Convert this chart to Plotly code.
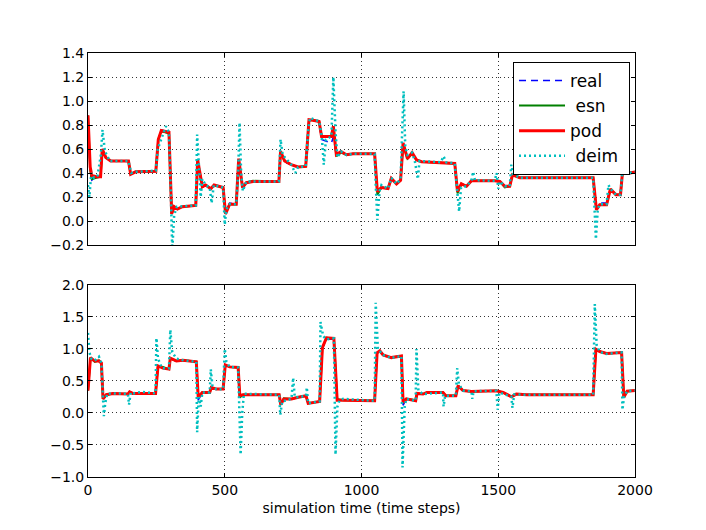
import plotly.graph_objects as go

# ---------------- data ----------------
t_top = [0, 8, 14, 30, 46, 52, 65, 83, 148, 156, 174, 248, 257, 268, 296, 306, 315, 327, 345, 394,
         401, 418, 430, 449, 461, 494, 503, 518, 542, 551, 565, 579, 603, 698, 704, 719, 743, 768, 796, 808,
         823, 845, 854, 890, 897, 908, 925, 945, 969, 1048, 1058, 1073, 1097, 1109, 1128, 1143, 1152, 1168, 1185, 1201,
         1219, 1292, 1341, 1351, 1365, 1384, 1402, 1487, 1506, 1524, 1542, 1552, 1579, 1847, 1859, 1871, 1896, 1910, 1930, 1947,
         1954, 1969, 1981, 2000]
pod_top = [0.88, 0.45, 0.38, 0.37, 0.37, 0.60, 0.53, 0.50, 0.50, 0.39, 0.41, 0.415, 0.68, 0.755, 0.74, 0.06, 0.12, 0.10, 0.12, 0.13,
           0.51, 0.285, 0.30, 0.27, 0.30, 0.28, 0.06, 0.14, 0.14, 0.52, 0.28, 0.32, 0.33, 0.33, 0.58, 0.50, 0.47, 0.45, 0.455, 0.845,
           0.84, 0.83, 0.705, 0.705, 0.79, 0.553, 0.58, 0.553, 0.56, 0.56, 0.245, 0.28, 0.27, 0.355, 0.31, 0.34, 0.65, 0.52, 0.57, 0.51,
           0.495, 0.486, 0.48, 0.245, 0.31, 0.29, 0.335, 0.335, 0.33, 0.29, 0.29, 0.385, 0.36, 0.36, 0.094, 0.136, 0.136, 0.266, 0.22, 0.22,
           0.40, 0.42, 0.40, 0.41]
real_top = [0.88, 0.40, 0.34, 0.37, 0.37, 0.60, 0.53, 0.50, 0.50, 0.39, 0.41, 0.415, 0.68, 0.76, 0.74, 0.06, 0.12, 0.10, 0.12, 0.13,
            0.51, 0.285, 0.30, 0.27, 0.30, 0.28, 0.06, 0.15, 0.14, 0.52, 0.28, 0.32, 0.33, 0.33, 0.58, 0.49, 0.47, 0.45, 0.455, 0.85,
            0.84, 0.83, 0.68, 0.65, 0.70, 0.553, 0.58, 0.553, 0.56, 0.56, 0.245, 0.28, 0.27, 0.355, 0.31, 0.34, 0.65, 0.53, 0.57, 0.51,
            0.495, 0.486, 0.48, 0.245, 0.31, 0.29, 0.335, 0.335, 0.33, 0.29, 0.29, 0.385, 0.36, 0.36, 0.094, 0.15, 0.15, 0.266, 0.22, 0.22,
            0.40, 0.42, 0.40, 0.41]
esn_top = [0.88, 0.42, 0.35, 0.36, 0.37, 0.59, 0.53, 0.50, 0.50, 0.39, 0.41, 0.415, 0.68, 0.75, 0.73, 0.06, 0.12, 0.10, 0.12, 0.13,
           0.50, 0.285, 0.30, 0.27, 0.30, 0.28, 0.06, 0.14, 0.14, 0.51, 0.28, 0.32, 0.335, 0.33, 0.57, 0.50, 0.47, 0.45, 0.455, 0.84,
           0.84, 0.83, 0.705, 0.705, 0.78, 0.54, 0.57, 0.553, 0.56, 0.56, 0.22, 0.28, 0.27, 0.355, 0.31, 0.34, 0.64, 0.52, 0.56, 0.51,
           0.495, 0.486, 0.48, 0.23, 0.31, 0.29, 0.335, 0.335, 0.33, 0.28, 0.29, 0.385, 0.36, 0.36, 0.094, 0.136, 0.136, 0.266, 0.22, 0.22,
           0.40, 0.42, 0.40, 0.41]

t_deim_top = [0, 5, 12, 22, 35, 47, 53, 62, 80, 148, 158, 174, 248, 255, 285, 296, 302, 308, 315, 325,
              394, 399, 406, 412, 418, 430, 445, 452, 460, 494, 500, 506, 518, 542, 549, 554, 560, 566, 579, 698,
              704, 712, 743, 758, 768, 796, 806, 812, 845, 855, 862, 870, 890, 897, 905, 912, 925, 945, 969, 1048,
              1052, 1058, 1066, 1073, 1097, 1109, 1128, 1143, 1148, 1154, 1160, 1168, 1185, 1195, 1206, 1212, 1219, 1290, 1300, 1310,
              1341, 1350, 1357, 1364, 1384, 1402, 1408, 1415, 1487, 1494, 1500, 1506, 1524, 1542, 1548, 1555, 1579, 1847, 1852, 1857,
              1864, 1871, 1896, 1903, 1910, 1930, 1947, 1954, 1969, 1981, 2000]
deim_top = [0.30, 0.20, 0.40, 0.36, 0.38, 0.55, 0.76, 0.58, 0.50, 0.50, 0.40, 0.41, 0.42, 0.60, 0.79, 0.74, 0.30, -0.25, 0.05, 0.12,
            0.13, 0.72, 0.45, 0.20, 0.35, 0.30, 0.28, 0.15, 0.30, 0.28, -0.03, 0.10, 0.14, 0.14, 0.40, 0.82, 0.40, 0.25, 0.33, 0.33,
            0.68, 0.55, 0.47, 0.40, 0.45, 0.455, 0.78, 0.86, 0.83, 0.70, 0.47, 0.68, 0.705, 1.20, 0.75, 0.53, 0.58, 0.55, 0.56, 0.56,
            0.30, 0.01, 0.25, 0.30, 0.27, 0.36, 0.31, 0.35, 0.70, 1.08, 0.62, 0.55, 0.57, 0.50, 0.35, 0.50, 0.50, 0.49, 0.54, 0.49,
            0.48, 0.25, 0.08, 0.28, 0.29, 0.34, 0.41, 0.34, 0.335, 0.40, 0.27, 0.33, 0.29, 0.29, 0.47, 0.39, 0.36, 0.36, 0.10, -0.15,
            0.10, 0.14, 0.14, 0.30, 0.27, 0.22, 0.22, 0.42, 0.43, 0.40, 0.41]

t_bot = [0, 9, 25, 40, 49, 55, 67, 91, 146, 152, 164, 247, 256, 274, 296, 301, 323, 347, 396, 403,
         418, 445, 451, 469, 494, 502, 518, 549, 555, 567, 699, 705, 716, 744, 769, 797, 805, 823, 847, 857,
         872, 899, 911, 933, 1048, 1057, 1067, 1079, 1109, 1146, 1152, 1164, 1198, 1203, 1225, 1239, 1298, 1308, 1345, 1353,
         1371, 1402, 1493, 1518, 1548, 1566, 1603, 1847, 1857, 1871, 1896, 1951, 1959, 1971, 2000]
pod_bot = [0.35, 0.865, 0.81, 0.81, 0.78, 0.22, 0.285, 0.305, 0.295, 0.33, 0.305, 0.305, 0.735, 0.70, 0.685, 0.855, 0.813, 0.824, 0.80, 0.245,
           0.32, 0.32, 0.40, 0.373, 0.373, 0.75, 0.72, 0.71, 0.27, 0.285, 0.285, 0.13, 0.22, 0.22, 0.245, 0.27, 0.15, 0.165, 0.18, 1.02,
           1.175, 1.165, 0.20, 0.20, 0.19, 0.94, 0.97, 0.905, 0.865, 0.89, 0.165, 0.22, 0.19, 0.305, 0.295, 0.32, 0.32, 0.27, 0.27, 0.425,
           0.35, 0.337, 0.347, 0.32, 0.254, 0.295, 0.285, 0.285, 0.995, 0.96, 0.93, 0.945, 0.245, 0.34, 0.35]
real_bot = [0.35, 0.86, 0.81, 0.81, 0.78, 0.20, 0.285, 0.305, 0.295, 0.33, 0.305, 0.305, 0.735, 0.70, 0.685, 0.85, 0.813, 0.824, 0.80, 0.20,
            0.32, 0.32, 0.40, 0.373, 0.373, 0.75, 0.72, 0.71, 0.26, 0.285, 0.285, 0.13, 0.22, 0.22, 0.245, 0.27, 0.15, 0.165, 0.18, 1.02,
            1.15, 1.15, 0.20, 0.20, 0.19, 0.94, 0.97, 0.905, 0.865, 0.89, 0.12, 0.22, 0.19, 0.305, 0.295, 0.32, 0.32, 0.27, 0.27, 0.425,
            0.35, 0.337, 0.347, 0.32, 0.254, 0.295, 0.285, 0.285, 0.995, 0.96, 0.93, 0.945, 0.245, 0.34, 0.35]
esn_bot = [0.35, 0.86, 0.80, 0.82, 0.78, 0.22, 0.285, 0.305, 0.295, 0.33, 0.305, 0.305, 0.73, 0.72, 0.685, 0.85, 0.813, 0.824, 0.80, 0.245,
           0.32, 0.32, 0.40, 0.373, 0.373, 0.75, 0.72, 0.71, 0.24, 0.285, 0.285, 0.13, 0.23, 0.22, 0.245, 0.27, 0.15, 0.165, 0.18, 1.02,
           1.175, 1.165, 0.22, 0.20, 0.19, 0.94, 0.96, 0.905, 0.865, 0.89, 0.18, 0.22, 0.20, 0.305, 0.295, 0.32, 0.32, 0.27, 0.27, 0.42,
           0.35, 0.337, 0.347, 0.32, 0.254, 0.295, 0.285, 0.285, 0.995, 0.96, 0.93, 0.945, 0.245, 0.34, 0.35]

t_deim_bot = [0, 5, 12, 25, 40, 49, 54, 58, 63, 70, 91, 146, 150, 156, 164, 200, 247, 250, 256, 270,
              296, 301, 308, 323, 347, 396, 399, 405, 412, 418, 445, 449, 455, 469, 494, 500, 506, 518, 549, 552,
              558, 564, 570, 699, 703, 710, 744, 750, 756, 769, 797, 800, 805, 823, 847, 850, 860, 872, 899, 905,
              912, 920, 933, 1048, 1052, 1060, 1079, 1109, 1146, 1150, 1158, 1164, 1198, 1201, 1208, 1225, 1298, 1300, 1306, 1345,
              1350, 1356, 1371, 1402, 1405, 1410, 1493, 1498, 1504, 1548, 1552, 1558, 1603, 1847, 1853, 1860, 1871, 1890, 1951, 1954,
              1960, 1971, 2000]
deim_bot = [1.25, 0.95, 0.85, 0.82, 0.88, 0.78, 0.30, -0.05, 0.15, 0.30, 0.305, 0.30, 0.13, 0.32, 0.305, 0.33, 0.305, 1.17, 0.85, 0.70,
            0.70, 1.30, 0.95, 0.85, 0.824, 0.80, -0.30, 0.25, 0.10, 0.32, 0.32, 0.68, 0.42, 0.37, 0.373, 1.00, 0.80, 0.72, 0.71, 0.25,
            -0.65, 0.00, 0.30, 0.285, -0.03, 0.18, 0.22, 0.55, 0.25, 0.245, 0.27, 0.40, 0.15, 0.165, 0.18, 1.42, 1.20, 1.15, 1.165, -0.65,
            0.10, 0.20, 0.22, 0.19, 1.72, 1.00, 0.905, 0.86, 0.89, -0.85, 0.10, 0.22, 0.19, 1.00, 0.35, 0.295, 0.32, 0.10, 0.27, 0.27,
            0.70, 0.45, 0.35, 0.337, 0.22, 0.34, 0.347, 0.05, 0.32, 0.254, 0.08, 0.29, 0.285, 0.285, 1.70, 1.05, 0.96, 0.92, 0.945, 0.05,
            0.25, 0.34, 0.35]

top_yticks = [-0.2, 0.0, 0.2, 0.4, 0.6, 0.8, 1.0, 1.2, 1.4]
bot_yticks = [-1.0, -0.5, 0.0, 0.5, 1.0, 1.5, 2.0]
xticks = [0, 500, 1000, 1500, 2000]
names = ["real", "\u00a0esn", "pod", "\u00a0deim\u00a0"]
x_title = "simulation time (time steps)"

# ---------------- figure ----------------
BLUE, GREEN, RED, CYAN = "#0000ff", "#008000", "#ff0000", "#00bfbf"
fig = go.Figure()

def add_panel(tx, real, esn, pod, tdx, deim, xa, ya, show):
    fig.add_trace(go.Scatter(x=tx, y=real, mode="lines", name=names[0], showlegend=show, legendrank=1,
                             line=dict(color=BLUE, width=1.5, dash="7px,5px"), xaxis=xa, yaxis=ya))
    fig.add_trace(go.Scatter(x=tx, y=esn, mode="lines", name=names[1], showlegend=show, legendrank=2,
                             line=dict(color=GREEN, width=2), xaxis=xa, yaxis=ya))
    fig.add_trace(go.Scatter(x=tx, y=pod, mode="lines", name=names[2], showlegend=show, legendrank=3,
                             line=dict(color=RED, width=3), xaxis=xa, yaxis=ya))
    fig.add_trace(go.Scatter(x=tdx, y=deim, mode="lines", name=names[3], showlegend=show, legendrank=4,
                             line=dict(color=CYAN, width=2.5, dash="2px,3px"), xaxis=xa, yaxis=ya))

add_panel(t_top, real_top, esn_top, pod_top, t_deim_top, deim_top, "x", "y", True)
add_panel(t_bot, real_bot, esn_bot, pod_bot, t_deim_bot, deim_bot, "x2", "y2", False)

axis_common = dict(showline=True, linecolor="black", linewidth=1, mirror="ticks",
                   ticks="inside", ticklen=4, tickcolor="black",
                   showgrid=True, gridcolor="#333333", gridwidth=1, griddash="1px,3px",
                   zeroline=False, tickfont=dict(family="DejaVu Sans", size=14, color="black"))

fig.update_layout(
    width=706, height=530,
    margin=dict(l=80, r=79, t=45, b=61),
    paper_bgcolor="white", plot_bgcolor="white",
    font=dict(family="DejaVu Sans", color="black"),
    xaxis=dict(domain=[0, 1], anchor="y", range=[0, 2000], tickvals=xticks, showticklabels=False, **axis_common),
    yaxis=dict(domain=[0.547, 1], anchor="x", range=[-0.2, 1.4], tickvals=top_yticks, tickformat=".1f", **axis_common),
    xaxis2=dict(domain=[0, 1], anchor="y2", range=[0, 2000], tickvals=xticks,
                title=dict(text=x_title, font=dict(family="DejaVu Sans", size=14, color="black"), standoff=6),
                **axis_common),
    yaxis2=dict(domain=[0, 0.453], anchor="x2", range=[-1.0, 2.0], tickvals=bot_yticks, tickformat=".1f", **axis_common),
    legend=dict(x=0.777, y=0.979, xanchor="left", yanchor="top", bgcolor="white",
                bordercolor="black", borderwidth=1, font=dict(family="DejaVu Sans", size=17, color="black"),
                itemwidth=46, tracegroupgap=0),
)

fig.write_html("out.html")
